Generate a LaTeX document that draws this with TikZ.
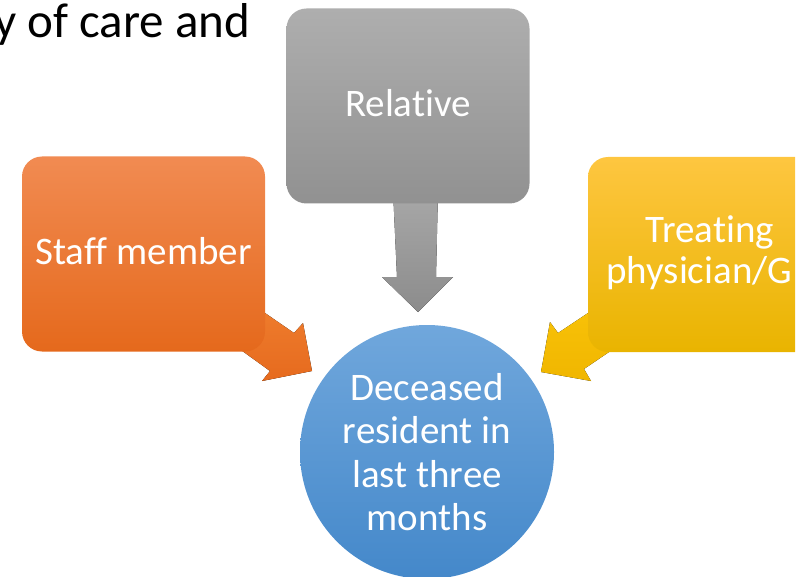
\documentclass[tikz,border=0pt]{standalone}
\usepackage{fontspec}
\setmainfont{Carlito}[Ligatures={NoCommon}]
\usetikzlibrary{shapes.geometric}
\definecolor{grayT}{RGB}{174,174,174}
\definecolor{grayB}{RGB}{145,145,145}
\definecolor{orT}{RGB}{241,139,82}
\definecolor{orB}{RGB}{229,105,28}
\definecolor{yeT}{RGB}{254,198,64}
\definecolor{yeB}{RGB}{233,180,0}
\definecolor{blT}{RGB}{112,167,220}
\definecolor{blB}{RGB}{68,136,202}
\definecolor{garT}{RGB}{168,168,168}
\definecolor{garB}{RGB}{140,140,140}
\definecolor{oarT}{RGB}{240,128,48}
\definecolor{oarB}{RGB}{230,106,30}
\definecolor{yarT}{RGB}{250,196,10}
\definecolor{yarB}{RGB}{240,182,0}
\tikzset{
  boxbase/.style={rounded corners=20pt, minimum width=243pt, minimum height=195pt, inner sep=0pt, draw=none},
  lbl/.style={text=white, font=\fontsize{39}{43.5}\selectfont, inner sep=0pt, anchor=base},
}
\begin{document}
\begin{tikzpicture}[x=1pt,y=-1pt]
\useasboundingbox (0,0) rectangle (805,577);
% top-left text
\node[anchor=base west, inner sep=0pt, font=\fontsize{49}{55}\selectfont] (title) at (-6,38) {y of care and};
% arrows (behind boxes)
\fill[top color=garT, bottom color=garB] (393,190) -- (438,190) -- (436,277) -- (453,277) -- (418,312) -- (382,277) -- (397,277) -- cycle;
\fill[top color=oarT, bottom color=oarB] (236,293) -- (294,333) -- (303,323) -- (312,371) -- (262,381) -- (270,371) -- (216,332) -- cycle;
\fill[top color=yarT, bottom color=yarB] (618,293) -- (558,333) -- (550,322) -- (541,372) -- (591,381) -- (584,369) -- (640,331) -- cycle;
% boxes
\node[boxbase, top color=grayT, bottom color=grayB] (rel) at (408,106) {};
\node[lbl] (reltxt) at (408,117) {Relative};
\node[boxbase, top color=orT, bottom color=orB] (staff) at (143.5,254) {};
\node[lbl] (stafftxt) at (143.5,265) {Staff member};
\begin{scope}
\clip (0,0) rectangle (795,577);
\node[boxbase, top color=yeT, bottom color=yeB] (phys) at (709.5,254.5) {};
\end{scope}
\node[lbl] (phys1) at (710,243) {Treating};
\node[lbl, anchor=base west] (phys2) at (606,283) {physician/G};
% circle
\node[circle, minimum size=254pt, inner sep=0pt, top color=blT, bottom color=blB] (dec) at (427,452) {};
\node[lbl, align=center, anchor=center] (dectxt) at (427,452) {Deceased\\resident in\\last three\\months};
\end{tikzpicture}
\end{document}
